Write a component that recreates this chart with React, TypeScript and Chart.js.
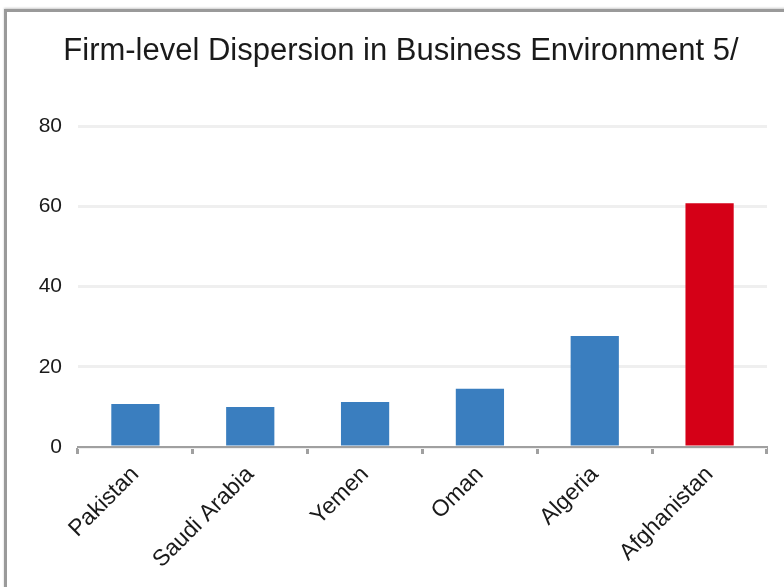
import React, { useEffect, useRef } from "react";
import { Chart, registerables } from "chart.js";

Chart.register(...registerables);

const categories = ["Pakistan", "Saudi Arabia", "Yemen", "Oman", "Algeria", "Afghanistan"];
const values = [10.7, 10.0, 11.2, 14.5, 27.7, 60.8];
const barColors = ["#3A7EBF", "#3A7EBF", "#3A7EBF", "#3A7EBF", "#3A7EBF", "#D50017"];
const yTicks = [0, 20, 40, 60, 80];
const title = "Firm-level Dispersion in Business Environment 5/";

const FONT = "'Liberation Sans', Arial, sans-serif";

export default function App() {
  const ref = useRef<HTMLCanvasElement | null>(null);
  useEffect(() => {
    if (!ref.current) return;
    const chart = new Chart(ref.current, {
      type: "bar",
      data: {
        labels: categories,
        datasets: [
          {
            data: values,
            backgroundColor: barColors,
            borderWidth: 0,
            barPercentage: 0.42,
            categoryPercentage: 1,
          },
        ],
      },
      options: {
        animation: false,
        responsive: false,
        layout: { padding: { top: 33, right: 17, left: 35, bottom: 0 } },
        plugins: {
          legend: { display: false },
          tooltip: { enabled: false },
          title: {
            display: true,
            text: title,
            color: "#1a1a1a",
            font: { family: FONT, size: 31, weight: "normal", lineHeight: 1.2 },
            padding: { top: 0, bottom: 56 },
          },
        },
        scales: {
          x: {
            afterFit: (s: any) => {
              s.height = 140;
            },
            grid: {
              display: true,
              offset: true,
              drawOnChartArea: false,
              drawTicks: true,
              tickLength: 7,
              tickColor: "#A0A0A0",
              tickWidth: 3,
            },
            border: { display: true, color: "#A0A0A0", width: 2 },
            ticks: {
              minRotation: 45,
              maxRotation: 45,
              color: "#1a1a1a",
              padding: 7,
              font: { family: FONT, size: 23 },
            },
          },
          y: {
            min: 0,
            max: 80,
            afterFit: (s: any) => {
              s.width = 43;
            },
            afterBuildTicks: (s: any) => {
              s.ticks = yTicks.map((v) => ({ value: v }));
            },
            grid: { color: "#EFEFEF", lineWidth: 3, drawTicks: false },
            border: { display: false },
            ticks: {
              color: "#1a1a1a",
              padding: 16,
              font: { family: FONT, size: 21 },
            },
          },
        },
      },
    });
    return () => chart.destroy();
  }, []);

  return (
    <div style={{ position: "absolute", left: 0, top: 0, width: 784, height: 587, background: "#fff", overflow: "hidden" }}>
      <div
        style={{
          position: "absolute",
          left: 4,
          top: 9,
          width: 800,
          height: 600,
          borderTop: "3px solid #9a9a9a",
          borderLeft: "3px solid #9a9a9a",
          boxShadow: "0 -1px 2px #ccc",
        }}
      />
      <canvas ref={ref} width={784} height={587} style={{ position: "absolute", left: 0, top: 0 }} />
    </div>
  );
}
